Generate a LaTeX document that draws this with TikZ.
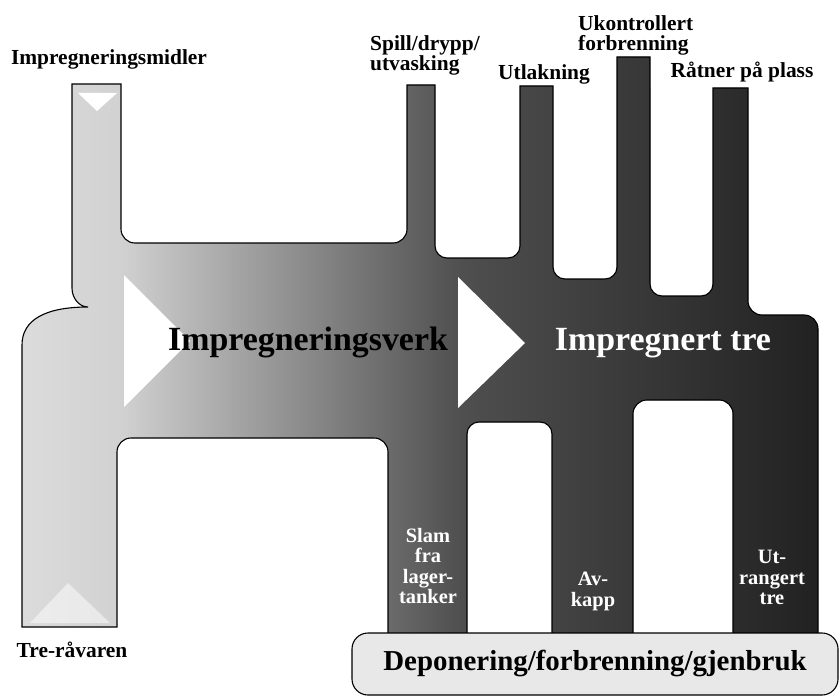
\documentclass[tikz,border=0pt]{standalone}
\usepackage{fontspec}
\setmainfont{Liberation Serif}
\definecolor{boxgray}{HTML}{E8E8E8}

% outline of the whole flow body (coordinates in pixels, y down)
\newcommand{\flowoutline}{(72,84) -- (121,84)
  [rounded corners=14bp] -- (121,243) -- (407,243)
  [sharp corners] -- (407,85) -- (435,85)
  [rounded corners=12bp] -- (435,258) -- (520,258)
  [sharp corners] -- (520,86) -- (553,86)
  [rounded corners=12bp] -- (553,279) -- (617,279)
  [sharp corners] -- (617,57) -- (650,57)
  [rounded corners=12bp] -- (650,296) -- (713,296)
  [sharp corners] -- (713,88) -- (748,88)
  [rounded corners=14bp] -- (748,315) -- (818,315)
  [sharp corners] -- (818,635) -- (733,635)
  [rounded corners=14bp] -- (733,400) -- (633,400)
  [sharp corners] -- (633,635) -- (552,635)
  [rounded corners=12bp] -- (552,422) -- (467,422)
  [sharp corners] -- (467,635) -- (388,635)
  [rounded corners=14bp] -- (388,438) -- (117,438)
  [sharp corners] -- (117,627) -- (22,627) -- (22,345)
  .. controls (22,320) and (45,307) .. (88,307)
  .. controls (79,307) and (72,298) .. (72,288) -- cycle}

\begin{document}
\begin{tikzpicture}[x=1bp,y=-1bp,
  lbl/.style={font=\fontsize{21.5}{21}\selectfont\bfseries,inner sep=0pt},
  barlbl/.style={font=\fontsize{20.5}{20.5}\selectfont\bfseries,text=white,
    align=center,inner sep=0pt,anchor=north},
  biglbl/.style={font=\fontsize{34}{36}\selectfont\bfseries,inner sep=0pt,anchor=base}]

\useasboundingbox (0,0) rectangle (840,697);

% flow body, light on the left, dark on the right
\begin{scope}
  \clip \flowoutline;
  \foreach \x in {20,22,...,820}{
    \pgfmathsetmacro{\pct}{(\x<120) ? 14+(\x-22)*0.04 : ((\x<460) ? 18+(\x-120)*0.15 : 69+(\x-460)*0.05)}
    \fill[black!\pct!white] (\x,50) rectangle ++(2.6,600);
  }
\end{scope}

% arrow heads
\fill[white] (124,275) -- (190,341) -- (124,407) -- cycle;
\fill[white] (458,277) -- (525,343) -- (458,408) -- cycle;
\fill[white] (78,93) -- (117,93) -- (97,111) -- cycle;
\fill[white,opacity=0.5] (30,623) -- (68,583) -- (110,623) -- cycle;

\draw[line width=1.1bp] \flowoutline;

% labels
\node[lbl,anchor=base] (midler) at (109,65) {Impregneringsmidler};
\node[lbl,anchor=north west,align=left] (spill) at (370,35) {Spill/drypp/\\utvasking};
\node[lbl,anchor=base] (utlak) at (544,80) {Utlakning};
\node[lbl,anchor=north west,align=left] (ukontr) at (578,15) {Ukontrollert\\forbrenning};
\node[lbl,anchor=base] (ratner) at (742,78) {Råtner på plass};
\node[lbl,anchor=base] (ravare) at (72,657) {Tre-råvaren};

\node[biglbl] (verk) at (308,350) {Impregneringsverk};
\node[biglbl,text=white] (tre) at (663,350) {Impregnert tre};

\node[barlbl] (slam) at (428,528) {Slam\\fra\\lager-\\tanker};
\node[barlbl] (avkapp) at (593,572) {Av-\\kapp};
\node[barlbl] (utrang) at (772,550) {Ut-\\rangert\\tre};

\node[draw,line width=1.1bp,fill=boxgray,rounded corners=16bp,
  minimum width=486bp,minimum height=62bp,inner sep=0pt,
  font=\fontsize{29}{30}\selectfont\bfseries] (depo) at (595,664)
  {Deponering/forbrenning/gjenbruk};

\end{tikzpicture}
\end{document}
